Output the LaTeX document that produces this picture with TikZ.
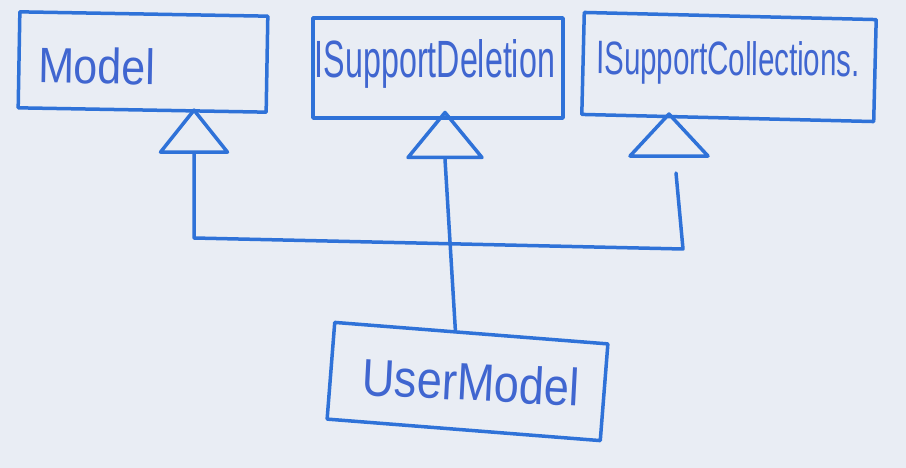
\documentclass[tikz,border=0pt]{standalone}
\usepackage{fontspec}
\setmainfont{Liberation Sans}
\usetikzlibrary{shapes.geometric}
\definecolor{ink}{HTML}{2F72D8}
\definecolor{txt}{HTML}{4066D0}
\definecolor{paper}{HTML}{E9EDF4}
\begin{document}
\begin{tikzpicture}[x=1pt,y=-1pt,
  box/.style={draw=ink, line width=3.5pt, rectangle, inner sep=0pt, line join=round},
  tri/.style={draw=ink, line width=3.5pt, isosceles triangle, shape border rotate=90,
    isosceles triangle stretches, inner sep=0pt, line join=round},
  wire/.style={draw=ink, line width=3.5pt, line join=round, line cap=round},
  lbl/.style={text=txt, inner sep=0pt}]
\fill[paper] (0,0) rectangle (906,468);
\useasboundingbox (0,0) rectangle (906,468);

% class boxes
\node[box, minimum width=248pt, minimum height=96pt, rotate=-1] (model) at (143,62) {};
\node[box, minimum width=250pt, minimum height=100pt] (del) at (438,68) {};
\node[box, minimum width=292pt, minimum height=102pt, rotate=-1.4] (col) at (729,67) {};
\node[box, minimum width=274pt, minimum height=97pt, rotate=-4.5] (um) at (467.5,381.5) {};

% labels
\node[lbl, rotate=-1] (tmodel) at (97,66) {\resizebox{117pt}{36pt}{Model}};
\node[lbl] (tdel) at (435,64) {\resizebox{240pt}{38pt}{ISupportDeletion}};
\node[lbl, rotate=-0.5] (tcol) at (728,63) {\resizebox{263pt}{34pt}{ISupportCollections.}};
\node[lbl, rotate=-3] (tum) at (471,382) {\resizebox{218pt}{38pt}{UserModel}};

% generalisation triangles
\node[tri, minimum width=67pt, minimum height=42pt] (tm) at (194,136) {};
\node[tri, minimum width=74pt, minimum height=45pt] (td) at (445,140) {};
\node[tri, minimum width=78pt, minimum height=42pt] (tc) at (669,139) {};

% connectors
\coordinate (j1) at (194,238);
\coordinate (j2) at (683,249);
\coordinate (cg) at (676,173);
\draw[wire] (tm.south) -- (j1) -- (j2) -- (cg);
\draw[wire] (td.south) -- ([xshift=-16pt]um.north);
\end{tikzpicture}
\end{document}
